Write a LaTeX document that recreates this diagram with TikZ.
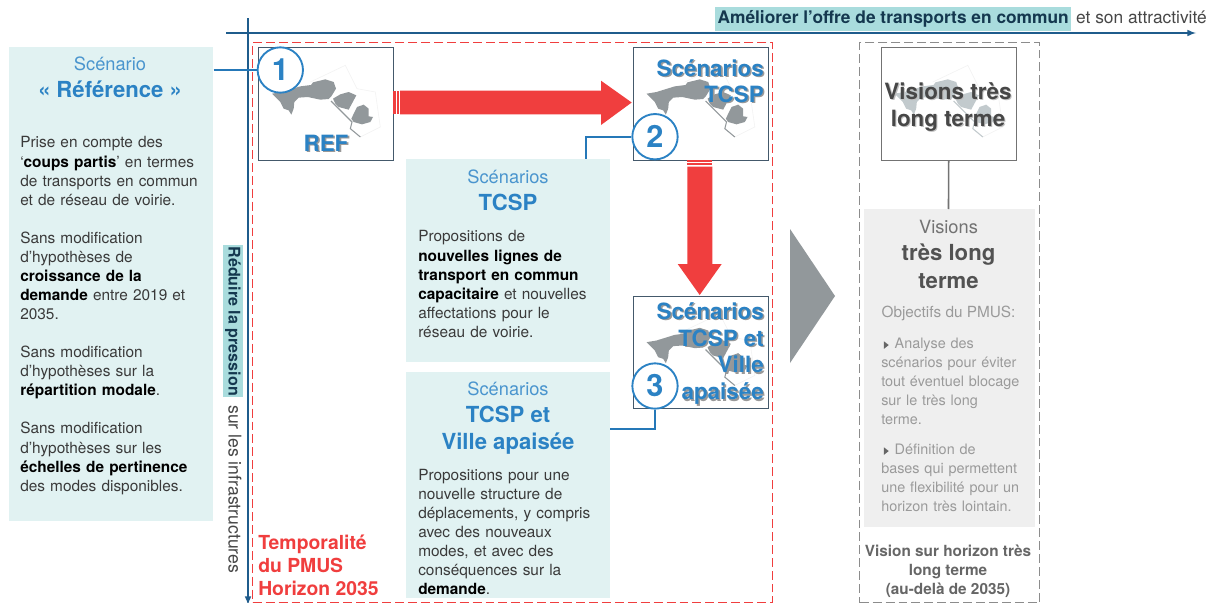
\documentclass[tikz,border=0pt]{standalone}
\usepackage{fontspec}
\setmainfont{TeX Gyre Heros}
\definecolor{navy}{HTML}{1F5C8C}
\definecolor{bluec}{HTML}{2B82C4}
\definecolor{linkb}{HTML}{2578B8}
\definecolor{titleb}{HTML}{4A95CE}
\definecolor{redc}{HTML}{F03E3E}
\definecolor{panel}{HTML}{E1F2F2}
\definecolor{hilite}{HTML}{A9DCDD}
\definecolor{greyp}{HTML}{EFEFEF}
\definecolor{mapg}{HTML}{92989B}
\definecolor{mapl}{HTML}{C2CACD}
\definecolor{framec}{HTML}{44596B}
\definecolor{dkt}{HTML}{3A3A3A}
\definecolor{gt}{HTML}{9A9A9A}
\definecolor{hitext}{HTML}{14384F}
\newcommand{\shblue}[1]{\leavevmode\raisebox{-1.2pt}{\rlap{\kern1.2pt\textcolor{black!40}{#1}}}\textcolor{bluec}{#1}}
\newcommand{\shgrey}[1]{\leavevmode\raisebox{-.8pt}{\rlap{\kern.8pt\textcolor{black!25}{#1}}}\textcolor{black!72}{#1}}
\newcommand{\bd}[1]{\textbf{\textcolor{black}{#1}}}
\newcommand{\tickmark}{\tikz[baseline=-2.4pt,x=1pt,y=1pt]\fill[black!60] (0,-2.8)--(3.6,0)--(0,2.8)--cycle;}
\newcommand{\citymap}[2]{%
 \begin{scope}[shift={(#1.north west)},scale=1/3,shift={(-113,-110)}]
  \draw[black!5,line width=.4pt] (270,215)--(375,165)--(410,235)--(465,245)--(480,350)--(420,380);
  \fill[#2] (155,250)--(185,245)--(240,228)--(272,224)--(278,216)--(315,207)--(340,215)--(347,235)--(333,258)--(325,266)--(300,268)--(262,260)--(235,262)--(222,275)--(220,295)--(213,313)--(205,300)--(190,295)--(180,275)--cycle;
  \fill[#2] (338,265)--(360,252)--(385,245)--(408,255)--(400,270)--(385,298)--(355,290)--(345,280)--cycle;
  \fill[#2] (393,325)--(410,290)--(430,283)--(445,295)--(445,318)--(458,320)--(450,335)--(425,342)--(400,335)--cycle;
  \draw[#2,line width=.8pt] (332,272)--(360,300)--(395,335)--(390,355)--(420,380);
 \end{scope}}
\tikzset{
 x=.75pt,y=-.75pt,
 frame/.style={draw=framec,line width=.8pt,fill=white,minimum width=101.5pt,minimum height=84.5pt,anchor=north west,inner sep=0pt},
 panelbox/.style={fill=panel,anchor=north west,inner sep=0pt},
 paneltext/.style={anchor=north west,inner sep=0pt,align=left,text=dkt,font=\fontsize{11.55pt}{14.3pt}\selectfont,text width=#1},
 numc/.style={circle,draw=bluec,line width=1.4pt,fill=white,minimum size=34pt,inner sep=0pt,text=bluec,font=\fontsize{23pt}{23pt}\selectfont\bfseries},
 link/.style={draw=linkb,line width=1.3pt},
 axis/.style={draw=navy,line width=1.2pt},
 arrowfill/.style={fill=redc},
 dashframe/.style={draw=#1,line width=1.1pt,dash pattern=on 6.7pt off 3pt,anchor=north west,minimum height=420pt,inner sep=0pt},
 titlesm/.style={align=center,inner sep=0pt,text=titleb,font=\fontsize{13.7pt}{15pt}\selectfont},
 titlebg/.style={align=center,inner sep=0pt,text=bluec,font=\fontsize{16.6pt}{20pt}\selectfont\bfseries},
 maplabel/.style={anchor=north east,align=right,inner sep=0pt,font=\fontsize{16.8pt}{#1}\selectfont\bfseries},
}
\begin{document}
\begin{tikzpicture}
\useasboundingbox (0,0) rectangle (1215,603);
\fill[white] (0,0) rectangle (1215,603);
% dashed regions
\node[dashframe=redc,minimum width=390pt] (red) at (252,42) {};
\node[dashframe=gray!90,minimum width=135pt] (grey) at (859,42) {};
% axes
\coordinate (hs) at (226,33); \coordinate (he) at (1196,33);
\coordinate (vs) at (248,18); \coordinate (ve) at (248,605);
\draw[axis,-latex] (hs)--(he);
\draw[axis,-latex] (vs)--(ve);
\node[anchor=east,inner sep=0pt,font=\fontsize{13pt}{15pt}\selectfont,text=black!72] (axh) at (1207,19) {\setlength{\fboxsep}{2pt}\colorbox{hilite}{\rule[-4pt]{0pt}{14.5pt}\textcolor{hitext}{\bfseries Améliorer l’offre de transports en commun}}\ et son attractivité};
\node[anchor=west,rotate=-90,inner sep=0pt,font=\fontsize{13.2pt}{15pt}\selectfont,text=black!72] (axv) at (233,245) {\setlength{\fboxsep}{1pt}\colorbox{hilite}{\rule[-3.6pt]{0pt}{13.6pt}\textcolor{hitext}{\fontsize{12.05pt}{15pt}\selectfont\bfseries Réduire la pression}}\hspace{6pt}sur les infrastructures};
% frames
\node[frame] (b1) at (258,47) {};
\node[frame] (b2) at (632.5,47) {};
\node[frame] (b3) at (632.5,295.5) {};
\node[frame,draw=black!55] (b4) at (880.5,47) {};
\citymap{b1}{mapg}
\citymap{b2}{mapg}
\citymap{b3}{mapg}
\citymap{b4}{mapl}
% big red arrows
\fill[arrowfill] (393,90.7) rectangle (395.5,114.3);
\fill[arrowfill] (396.5,90.7) rectangle (398.5,114.3);
\fill[arrowfill] (400,90.7)--(601,90.7)--(601,80.7)--(631.7,102.5)--(601,125)--(601,114.3)--(400,114.3)--cycle;
\fill[arrowfill] (687.3,159.5) rectangle (712.3,161.5);
\fill[arrowfill] (687.3,163) rectangle (712.3,165);
\fill[arrowfill] (687.3,166.5)--(712.3,166.5)--(712.3,264)--(721.7,264)--(699.7,295)--(677.7,264)--(687.3,264)--cycle;
% grey triangle
\fill[mapg] (790,229)--(835,296)--(790,363)--cycle;
% map labels
\node[inner sep=0pt,font=\fontsize{16.8pt}{20pt}\selectfont\bfseries] (refl) at (326,144) {\shblue{REF}};
\node[maplabel=19.5pt] (l2) at (764,59) {\shblue{Scénarios}\\\shblue{TCSP}};
\node[maplabel=20.2pt] (l3) at (764,302) {\shblue{Scénarios}\\\shblue{TCSP et}\\\shblue{Ville}\\\shblue{apaisée}};
\node[align=center,inner sep=0pt,font=\fontsize{16.8pt}{20pt}\selectfont\bfseries] (l4) at (948,107.5) {\shgrey{Visions très}\\\shgrey{long terme}};
% left panel
\node[panelbox,minimum width=153pt,minimum height=355.5pt] (p1) at (9,47) {};
\node[titlesm] (p1a) at (110,64) {Scénario};
\node[titlebg] (p1b) at (110,89) {« Référence »};
\node[paneltext=140pt] (p1c) at (20,136.5) {Prise en compte des\\‘\bd{coups partis}’ en termes\\de transports en commun\\et de réseau de voirie.\\[14.3pt]Sans modification\\d’hypothèses de\\\bd{croissance de la}\\\bd{demande} entre 2019 et\\2035.\\[14.3pt]Sans modification\\d’hypothèses sur la\\\bd{répartition modale}.\\[14.3pt]Sans modification\\d’hypothèses sur les\\\bd{échelles de pertinence}\\des modes disponibles.};
% TCSP panel
\node[panelbox,minimum width=153pt,minimum height=152pt] (p2) at (406,159) {};
\node[titlesm] (p2a) at (508,177) {Scénarios};
\node[titlebg] (p2b) at (508,202) {TCSP};
\node[paneltext=140pt] (p2c) at (418,230.5) {Propositions de\\\bd{nouvelles lignes de}\\\bd{transport en commun}\\\bd{capacitaire} et nouvelles\\affectations pour le\\réseau de voirie.};
% TCSP et Ville panel
\node[panelbox,minimum width=153pt,minimum height=169.5pt] (p3) at (406,372) {};
\node[titlesm] (p3a) at (508,389) {Scénarios};
\node[titlebg] (p3b) at (508,430) {TCSP et\\Ville apaisée};
\node[paneltext=140pt] (p3c) at (418,469) {Propositions pour une\\nouvelle structure de\\déplacements, y compris\\avec des nouveaux\\modes, et avec des\\conséquences sur la\\\bd{demande}.};
% grey panel
\node[panelbox,fill=greyp,minimum width=128pt,minimum height=238pt] (p4) at (864,209) {};
\coordinate (p4top) at (948.5,209);
\draw[black!55,line width=1.2pt] (b4.south) -- (p4top);
\node[titlesm,text=black!55] (p4a) at (948.5,227) {Visions};
\node[titlebg,text=black!68,font=\fontsize{16.6pt}{21pt}\selectfont\bfseries] (p4b) at (948.5,266) {très long\\terme};
\node[align=center,inner sep=0pt,text=gt,font=\fontsize{11.5pt}{14pt}\selectfont] (p4c) at (948.5,313) {Objectifs du PMUS:};
\node[paneltext=125pt,text=gt,font=\fontsize{10.8pt}{14.3pt}\selectfont] (p4d) at (881,337.5) {\hspace*{2pt}\tickmark\hspace{4.5pt}Analyse des\\scénarios pour éviter\\tout éventuel blocage\\sur le très long\\terme.\\[8pt]\hspace*{2pt}\tickmark\hspace{4.5pt}Définition de\\bases qui permettent\\une flexibilité pour un\\horizon très lointain.};
\node[align=center,inner sep=0pt,text=black!60,font=\fontsize{11.5pt}{14.3pt}\selectfont\bfseries] (p4e) at (948,571) {Vision sur horizon très\\long terme\\(au-delà de 2035)};
% red label
\node[anchor=west,align=left,inner sep=0pt,text=redc,font=\fontsize{14.5pt}{17.3pt}\selectfont\bfseries] (tp) at (258,565) {Temporalité\\du PMUS\\Horizon 2035};
% number circles
\node[numc] (n1) at (280.3,70) {1};
\node[numc] (n2) at (655,136.7) {2};
\node[numc] (n3) at (655,386) {3};
% connectors
\draw[link] (p1.east |- n1) -- (n1.west);
\coordinate (c2) at (586,159);
\draw[link] (n2.west) -| (c2);
\coordinate (c3) at (610,429);
\draw[link] (n3.south) |- (c3);
\end{tikzpicture}
\end{document}
